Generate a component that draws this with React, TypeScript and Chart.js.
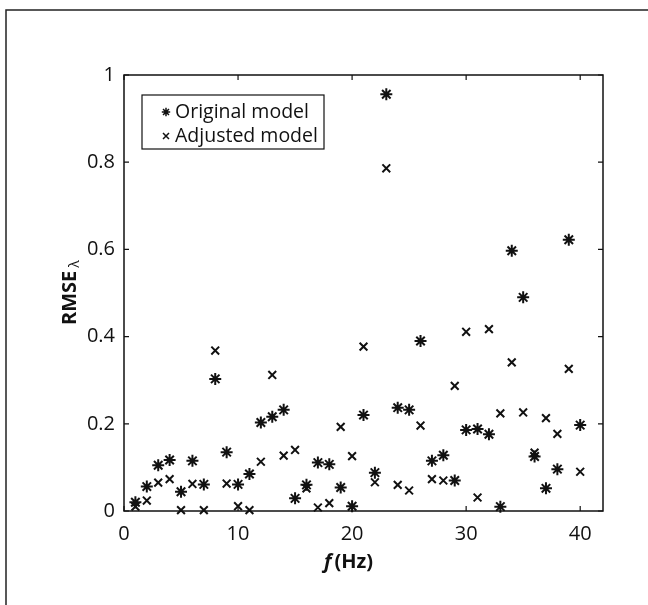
import React, { useEffect, useRef } from "react";
import { Chart, registerables } from "chart.js";

Chart.register(...registerables);

// ---- data ----
const frequencies = [
  1, 2, 3, 4, 5, 6, 7, 8, 9, 10, 11, 12, 13, 14, 15, 16, 17, 18, 19, 20,
  21, 22, 23, 24, 25, 26, 27, 28, 29, 30, 31, 32, 33, 34, 35, 36, 37, 38, 39, 40,
];
const originalModel = [
  0.02, 0.056, 0.105, 0.117, 0.044, 0.115, 0.061, 0.303, 0.135, 0.061,
  0.085, 0.203, 0.216, 0.232, 0.029, 0.06, 0.111, 0.107, 0.054, 0.011,
  0.22, 0.088, 0.956, 0.237, 0.232, 0.39, 0.115, 0.128, 0.07, 0.186,
  0.188, 0.176, 0.01, 0.597, 0.49, 0.125, 0.052, 0.096, 0.622, 0.197,
];
const adjustedModel = [
  0.01, 0.024, 0.065, 0.073, 0.002, 0.062, 0.002, 0.368, 0.063, 0.011,
  0.002, 0.113, 0.312, 0.127, 0.14, 0.052, 0.008, 0.018, 0.193, 0.126,
  0.377, 0.066, 0.786, 0.06, 0.047, 0.196, 0.073, 0.07, 0.287, 0.411,
  0.031, 0.417, 0.224, 0.341, 0.226, 0.134, 0.213, 0.177, 0.326, 0.09,
];
const seriesLabels = ["Original model", "Adjusted model"];
const xTickValues = [0, 10, 20, 30, 40];
const xTickLabels = ["0", "10", "20", "30", "40"];
const yTickValues = [0, 0.2, 0.4, 0.6, 0.8, 1];
const yTickLabels = ["0", "0.2", "0.4", "0.6", "0.8", "1"];
const xRange = [0, 42];
const yRange = [0, 1];

const INK = "#111";
const FONT = "'Open Sans', 'DejaVu Sans', sans-serif";

function drawAsterisk(ctx: CanvasRenderingContext2D, x: number, y: number, r: number) {
  ctx.beginPath();
  for (let k = 0; k < 4; k++) {
    const a = (k * Math.PI) / 4;
    ctx.moveTo(x - Math.cos(a) * r, y - Math.sin(a) * r);
    ctx.lineTo(x + Math.cos(a) * r, y + Math.sin(a) * r);
  }
  ctx.stroke();
}
function drawCross(ctx: CanvasRenderingContext2D, x: number, y: number, r: number) {
  ctx.beginPath();
  ctx.moveTo(x - r, y - r);
  ctx.lineTo(x + r, y + r);
  ctx.moveTo(x - r, y + r);
  ctx.lineTo(x + r, y - r);
  ctx.stroke();
}

const decorPlugin = {
  id: "matlabDecor",
  afterDraw(chart: any) {
    const { ctx, chartArea: a, scales } = chart;
    const xs = scales.x;
    const ys = scales.y;
    ctx.save();
    // outer page frame (top + left)
    ctx.strokeStyle = "#222";
    ctx.lineWidth = 1.5;
    ctx.beginPath();
    ctx.moveTo(6, 605);
    ctx.lineTo(6, 10);
    ctx.lineTo(648, 10);
    ctx.stroke();

    // plot box
    ctx.strokeStyle = INK;
    ctx.lineWidth = 1.5;
    ctx.strokeRect(a.left, a.top, a.right - a.left, a.bottom - a.top);

    // inward ticks
    const tl = 5;
    ctx.lineWidth = 1.2;
    ctx.beginPath();
    xTickValues.forEach((v) => {
      const px = xs.getPixelForValue(v);
      ctx.moveTo(px, a.bottom);
      ctx.lineTo(px, a.bottom - tl);
      ctx.moveTo(px, a.top);
      ctx.lineTo(px, a.top + tl);
    });
    yTickValues.forEach((v) => {
      const py = ys.getPixelForValue(v);
      ctx.moveTo(a.left, py);
      ctx.lineTo(a.left + tl, py);
      ctx.moveTo(a.right, py);
      ctx.lineTo(a.right - tl, py);
    });
    ctx.stroke();

    // legend box
    const lx = 142, ly = 95, lw = 182, lh = 54;
    ctx.fillStyle = "#fff";
    ctx.fillRect(lx, ly, lw, lh);
    ctx.lineWidth = 1.2;
    ctx.strokeRect(lx, ly, lw, lh);
    ctx.fillStyle = INK;
    ctx.font = `19.5px ${FONT}`;
    ctx.textAlign = "left";
    ctx.textBaseline = "middle";
    ctx.lineWidth = 1.5;
    drawAsterisk(ctx, lx + 24, ly + 17, 4.2);
    ctx.fillText(seriesLabels[0], lx + 33, ly + 17);
    drawCross(ctx, lx + 24, ly + 41, 3);
    ctx.fillText(seriesLabels[1], lx + 33, ly + 41);

    // x title: f (Hz)
    ctx.textBaseline = "alphabetic";
    ctx.font = `italic bold 20px ${FONT}`;
    const fx = 324, fy = 568;
    ctx.fillText("f", fx, fy);
    const fw = ctx.measureText("f").width;
    ctx.font = `bold 20px ${FONT}`;
    ctx.fillText("(Hz)", fx + fw + 3, fy);

    // y title: RMSE_lambda
    ctx.save();
    ctx.translate(76, 325);
    ctx.rotate(-Math.PI / 2);
    ctx.font = `bold 20px ${FONT}`;
    ctx.fillText("RMSE", 0, 0);
    const rw = ctx.measureText("RMSE").width;
    ctx.font = `14px ${FONT}`;
    ctx.fillText("λ", rw + 3, 3);
    ctx.restore();

    ctx.restore();
  },
};

export default function App() {
  const canvasRef = useRef<HTMLCanvasElement | null>(null);

  useEffect(() => {
    const canvas = canvasRef.current;
    if (!canvas) return;
    const toPoints = (vals: number[]) => frequencies.map((f, i) => ({ x: f, y: vals[i] }));
    const chart = new Chart(canvas, {
      type: "scatter",
      data: {
        datasets: [
          {
            label: seriesLabels[0],
            data: toPoints(originalModel),
            pointStyle: "star",
            pointRadius: 6,
            pointBorderWidth: 2,
            pointBorderColor: INK,
            pointBackgroundColor: "transparent",
            showLine: false,
            clip: false,
          } as any,
          {
            label: seriesLabels[1],
            data: toPoints(adjustedModel),
            pointStyle: "crossRot",
            pointRadius: 5.5,
            pointBorderWidth: 2,
            pointBorderColor: INK,
            pointBackgroundColor: "transparent",
            showLine: false,
            clip: false,
          } as any,
        ],
      },
      options: {
        responsive: false,
        animation: false,
        devicePixelRatio: 1,
        layout: { padding: { left: 0, top: 75, right: 45, bottom: 54 } },
        plugins: { legend: { display: false }, tooltip: { enabled: false } },
        events: [],
        scales: {
          x: {
            type: "linear",
            min: xRange[0],
            max: xRange[1],
            afterBuildTicks: (s: any) => {
              s.ticks = xTickValues.map((v) => ({ value: v }));
            },
            afterFit: (s: any) => {
              s.height = 40;
            },
            ticks: {
              autoSkip: false,
              maxRotation: 0,
              padding: 11,
              color: INK,
              font: { family: FONT, size: 20 },
              callback: (v: any) => {
                const i = xTickValues.indexOf(Number(v));
                return i >= 0 ? xTickLabels[i] : "";
              },
            },
            grid: { display: false, drawTicks: false },
            border: { display: false },
          },
          y: {
            type: "linear",
            min: yRange[0],
            max: yRange[1],
            afterBuildTicks: (s: any) => {
              s.ticks = yTickValues.map((v) => ({ value: v }));
            },
            afterFit: (s: any) => {
              s.width = 124;
            },
            ticks: {
              autoSkip: false,
              padding: 9,
              color: INK,
              font: { family: FONT, size: 20 },
              callback: (v: any) => {
                const i = yTickValues.findIndex((t) => Math.abs(t - Number(v)) < 1e-9);
                return i >= 0 ? yTickLabels[i] : "";
              },
            },
            grid: { display: false, drawTicks: false },
            border: { display: false },
          },
        },
      },
      plugins: [decorPlugin],
    });
    return () => chart.destroy();
  }, []);

  return (
    <div style={{ position: "absolute", left: 0, top: 0, width: 648, height: 605, background: "#fff" }}>
      <canvas ref={canvasRef} width={648} height={605} style={{ display: "block" }} />
    </div>
  );
}
